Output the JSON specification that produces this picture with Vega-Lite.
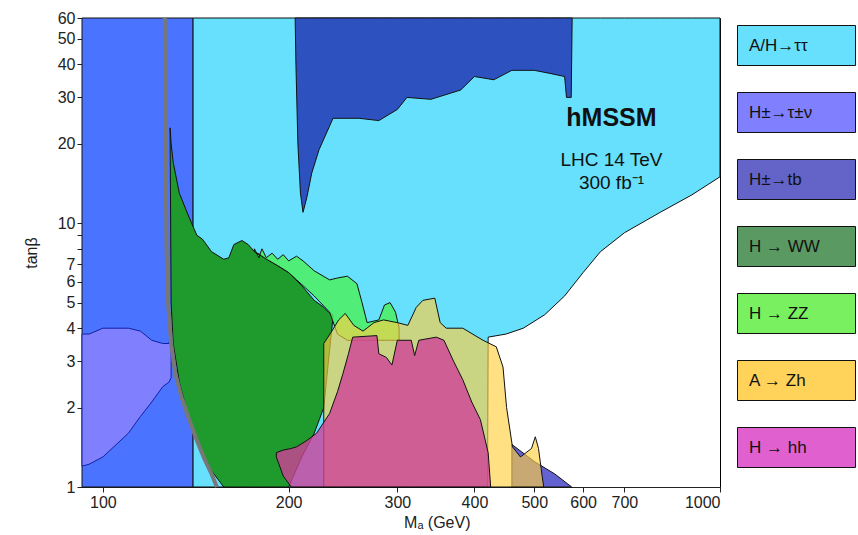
{
"$schema":"https://vega.github.io/schema/vega-lite/v6.json",
"autosize":"none","width":638,"height":469,
"padding":{"left":82,"top":18,"right":138,"bottom":48},
"background":"white",
"config":{"view":{"stroke":"black"},"axis":{"labelFont":"Liberation Sans","titleFont":"Liberation Sans","labelFontSize":16,"titleFontSize":16,"labelColor":"#222","titleColor":"#222","grid":false,"tickColor":"#222","domainColor":"#222","titleFontWeight":"normal"}},
"datasets":{
"blue":[{"x":92.5,"y":60,"y2":1},{"x":140,"y":60,"y2":1}],
"tt":[{"x":140,"y":60,"y2":1},{"x":420,"y":60,"y2":1},{"x":421,"y":60,"y2":3.7},{"x":450,"y":60,"y2":3.8},{"x":480,"y":60,"y2":4.0},{"x":520,"y":60,"y2":4.5},{"x":560,"y":60,"y2":5.3},{"x":600,"y":60,"y2":6.5},{"x":640,"y":60,"y2":7.8},{"x":700,"y":60,"y2":9.2},{"x":800,"y":60,"y2":11},{"x":900,"y":60,"y2":12.8},{"x":1000,"y":60,"y2":15}],
"tb":[{"x":204.9,"y":60,"y2":60},{"x":205.5,"y":60,"y2":40},{"x":207,"y":60,"y2":20},{"x":209,"y":60,"y2":13},{"x":211,"y":60,"y2":11},{"x":214,"y":60,"y2":12.5},{"x":218,"y":60,"y2":15.5},{"x":224,"y":60,"y2":19},{"x":236,"y":60,"y2":25},{"x":260,"y":60,"y2":25},{"x":280,"y":60,"y2":24.5},{"x":300,"y":60,"y2":27},{"x":311,"y":60,"y2":30},{"x":340,"y":60,"y2":29.5},{"x":380,"y":60,"y2":32},{"x":400,"y":60,"y2":36},{"x":430,"y":60,"y2":35},{"x":460,"y":60,"y2":38},{"x":500,"y":60,"y2":38},{"x":530,"y":60,"y2":37},{"x":560,"y":60,"y2":36},{"x":564,"y":60,"y2":30},{"x":574,"y":60,"y2":30},{"x":576,"y":60,"y2":60}],
"tb2":[{"x":460,"y":1.45,"y2":1},{"x":500,"y":1.25,"y2":1},{"x":540,"y":1.12,"y2":1},{"x":575,"y":1.0,"y2":1}],
"tn":[{"x":92.5,"y":3.8,"y2":1.2},{"x":95,"y":3.8,"y2":1.22},{"x":100,"y":4.0,"y2":1.3},{"x":110,"y":4.0,"y2":1.6},{"x":115,"y":3.9,"y2":1.85},{"x":120,"y":3.6,"y2":2.1},{"x":125,"y":3.5,"y2":2.4},{"x":128,"y":3.5,"y2":2.5},{"x":129,"y":4.0,"y2":2.6}],
"ww":[{"x":128.5,"y":23,"y2":22},{"x":129,"y":20,"y2":5},{"x":130,"y":17,"y2":3.5},{"x":133,"y":13,"y2":2.5},{"x":138,"y":10.5,"y2":1.8},{"x":142,"y":9,"y2":1.5},{"x":145,"y":8.7,"y2":1.35},{"x":150,"y":7.8,"y2":1.15},{"x":157,"y":7.3,"y2":1},{"x":160,"y":7.4,"y2":1},{"x":163,"y":8.3,"y2":1},{"x":168,"y":8.6,"y2":1},{"x":172,"y":8.3,"y2":1},{"x":176,"y":7.8,"y2":1},{"x":180,"y":7.6,"y2":1},{"x":200,"y":6.5,"y2":1},{"x":210,"y":5.8,"y2":1.3},{"x":220,"y":5.1,"y2":1.6},{"x":228,"y":4.8,"y2":2},{"x":232,"y":4.6,"y2":3},{"x":236,"y":4.5,"y2":4.4}],
"zz":[{"x":176,"y":8,"y2":7.8},{"x":179,"y":7.4,"y2":7.6},{"x":181,"y":8.0,"y2":7.5},{"x":184,"y":7.4,"y2":7.3},{"x":188,"y":7.7,"y2":7.1},{"x":192,"y":7.3,"y2":6.9},{"x":196,"y":7.6,"y2":6.7},{"x":200,"y":7.2,"y2":6.5},{"x":206,"y":7.5,"y2":6.1},{"x":211,"y":7.2,"y2":5.8},{"x":220,"y":6.6,"y2":5.3},{"x":233,"y":6.1,"y2":4.6},{"x":240,"y":6.2,"y2":3.8},{"x":249,"y":6.3,"y2":3.6},{"x":258,"y":5.9,"y2":3.6},{"x":263,"y":5.0,"y2":3.6},{"x":268,"y":4.2,"y2":3.6},{"x":280,"y":4.3,"y2":3.6},{"x":286,"y":4.9,"y2":3.6},{"x":292,"y":5.0,"y2":3.6},{"x":298,"y":4.6,"y2":3.6},{"x":302,"y":4.0,"y2":3.6}],
"zh":[{"x":228,"y":3.5,"y2":1},{"x":235,"y":3.9,"y2":1},{"x":241,"y":4.3,"y2":1},{"x":247,"y":4.55,"y2":1},{"x":255,"y":4.1,"y2":1},{"x":264,"y":3.9,"y2":1},{"x":275,"y":4.2,"y2":1},{"x":285,"y":4.3,"y2":1},{"x":300,"y":4.2,"y2":1},{"x":312,"y":4.1,"y2":1},{"x":322,"y":4.8,"y2":1},{"x":330,"y":5.1,"y2":1},{"x":345,"y":5.2,"y2":1},{"x":352,"y":4.2,"y2":1},{"x":360,"y":4.0,"y2":1},{"x":383,"y":4.0,"y2":1},{"x":413,"y":3.6,"y2":1},{"x":434,"y":3.4,"y2":1},{"x":445,"y":2.85,"y2":1},{"x":451,"y":2.0,"y2":1},{"x":461,"y":1.42,"y2":1},{"x":475,"y":1.3,"y2":1},{"x":495,"y":1.4,"y2":1},{"x":502,"y":1.55,"y2":1},{"x":508,"y":1.4,"y2":1},{"x":515,"y":1.1,"y2":1},{"x":518,"y":1.0,"y2":1}],
"hh":[{"x":191,"y":1.35,"y2":1.3},{"x":196,"y":1.38,"y2":1.1},{"x":202,"y":1.4,"y2":1},{"x":206,"y":1.42,"y2":1},{"x":214,"y":1.5,"y2":1},{"x":222,"y":1.6,"y2":1},{"x":233,"y":1.9,"y2":1},{"x":240,"y":2.3,"y2":1},{"x":245,"y":2.7,"y2":1},{"x":250,"y":3.2,"y2":1},{"x":254,"y":3.7,"y2":1},{"x":278,"y":3.75,"y2":1},{"x":280,"y":3.2,"y2":1},{"x":288,"y":3.1,"y2":1},{"x":294,"y":2.9,"y2":1},{"x":300,"y":3.6,"y2":1},{"x":316,"y":3.6,"y2":1},{"x":320,"y":3.15,"y2":1},{"x":325,"y":3.6,"y2":1},{"x":347,"y":3.7,"y2":1},{"x":357,"y":3.6,"y2":1},{"x":370,"y":3.0,"y2":1},{"x":383,"y":2.55,"y2":1},{"x":396,"y":2.1,"y2":1},{"x":409,"y":1.8,"y2":1},{"x":421,"y":1.35,"y2":1},{"x":425,"y":1.0,"y2":1}],
"mh":[{"x":126,"y":60},{"x":126.3,"y":20},{"x":126.8,"y":8},{"x":127.5,"y":5},{"x":129,"y":3.5},{"x":131,"y":2.7},{"x":134,"y":2.2},{"x":138,"y":1.8},{"x":142,"y":1.5},{"x":146,"y":1.28},{"x":150,"y":1.12},{"x":153,"y":1.0}],
"leg":[{"s":"A/H→ττ"},{"s":"H±→τ±ν"},{"s":"H±→tb"},{"s":"H → WW"},{"s":"H → ZZ"},{"s":"A → Zh"},{"s":"H → hh"}],
"t1":[{"x":667,"y":25,"t":"hMSSM"}],
"t2":[{"x":667,"y":17.3,"t":"LHC 14 TeV"},{"x":667,"y":14.2,"t":"300 fb⁻¹"}]
},
"encoding":{
"x":{"field":"x","type":"quantitative","scale":{"type":"log","domain":[92.5,1000]},"axis":{"values":[100,200,300,400,500,600,700,1000],"format":"d","title":"Mₐ (GeV)","titleAlign":"right","titleAnchor":"end","titleX":388,"titlePadding":4}},
"y":{"field":"y","type":"quantitative","scale":{"type":"log","domain":[1,60]},"axis":{"values":[1,2,3,4,5,6,7,8,9,10,20,30,40,50,60],"labelExpr":"indexof([8,9],datum.value)>=0?'':datum.label","title":"tanβ","titleAnchor":"middle","titlePadding":18}}
},
"layer":[
{"data":{"name":"blue"},"mark":{"type":"area","fill":"#4a74ff","stroke":"#111","strokeWidth":1},"encoding":{"y2":{"field":"y2"}}},
{"data":{"name":"tt"},"mark":{"type":"area","fill":"#66e0fc","stroke":"#111","strokeWidth":1},"encoding":{"y2":{"field":"y2"}}},
{"data":{"name":"tb"},"mark":{"type":"area","fill":"#2d52c0","stroke":"#111","strokeWidth":1},"encoding":{"y2":{"field":"y2"}}},
{"data":{"name":"tb2"},"mark":{"type":"area","fill":"#6262d0","stroke":"#111","strokeWidth":1},"encoding":{"y2":{"field":"y2"}}},
{"data":{"name":"tn"},"mark":{"type":"area","fill":"#8080ff","stroke":"#1020a0","strokeWidth":1},"encoding":{"y2":{"field":"y2"}}},
{"data":{"name":"ww"},"mark":{"type":"area","fill":"#1f9a2c","stroke":"#111","strokeWidth":1},"encoding":{"y2":{"field":"y2"}}},
{"data":{"name":"zz"},"mark":{"type":"area","fill":"#4cf060","fillOpacity":0.85,"stroke":"#111","strokeWidth":1},"encoding":{"y2":{"field":"y2"}}},
{"data":{"name":"zh"},"mark":{"type":"area","fill":"#ffd040","fillOpacity":0.65,"stroke":"#111","strokeWidth":1},"encoding":{"y2":{"field":"y2"}}},
{"data":{"name":"hh"},"mark":{"type":"area","fill":"#d04098","fillOpacity":0.8,"stroke":"#111","strokeWidth":1},"encoding":{"y2":{"field":"y2"}}},
{"data":{"name":"mh"},"mark":{"type":"line","stroke":"#777","strokeWidth":4},"encoding":{}},
{"data":{"name":"t1"},"mark":{"type":"text","font":"Liberation Sans","fontWeight":"bold","fontSize":25,"color":"#111"},"encoding":{"text":{"field":"t"}}},
{"data":{"name":"t2"},"mark":{"type":"text","font":"Liberation Sans","fontSize":19,"color":"#111"},"encoding":{"text":{"field":"t"}}},
{"data":{"name":"leg"},"mark":{"type":"point","filled":true,"opacity":0},"encoding":{"x":{"value":0},"y":{"value":0},"color":{"field":"s","type":"nominal","scale":{"domain":["A/H→ττ","H±→τ±ν","H±→tb","H → WW","H → ZZ","A → Zh","H → hh"],"range":["#66e0fc","#8080ff","#6464c8","#5a9a62","#78f060","#ffd25a","#e060d0"]},"legend":{"title":null,"orient":"none","legendX":674,"legendY":-13,"padding":0,"symbolType":"M-1.475,-0.5L1.475,-0.5L1.475,0.5L-1.475,0.5Z","symbolSize":6400,"symbolOpacity":1,"symbolStrokeColor":"#111","symbolStrokeWidth":1,"labelOffset":-88,"rowPadding":4,"labelFont":"Liberation Sans","labelFontSize":17,"labelColor":"#111","labelLimit":200}}}}
]
}
